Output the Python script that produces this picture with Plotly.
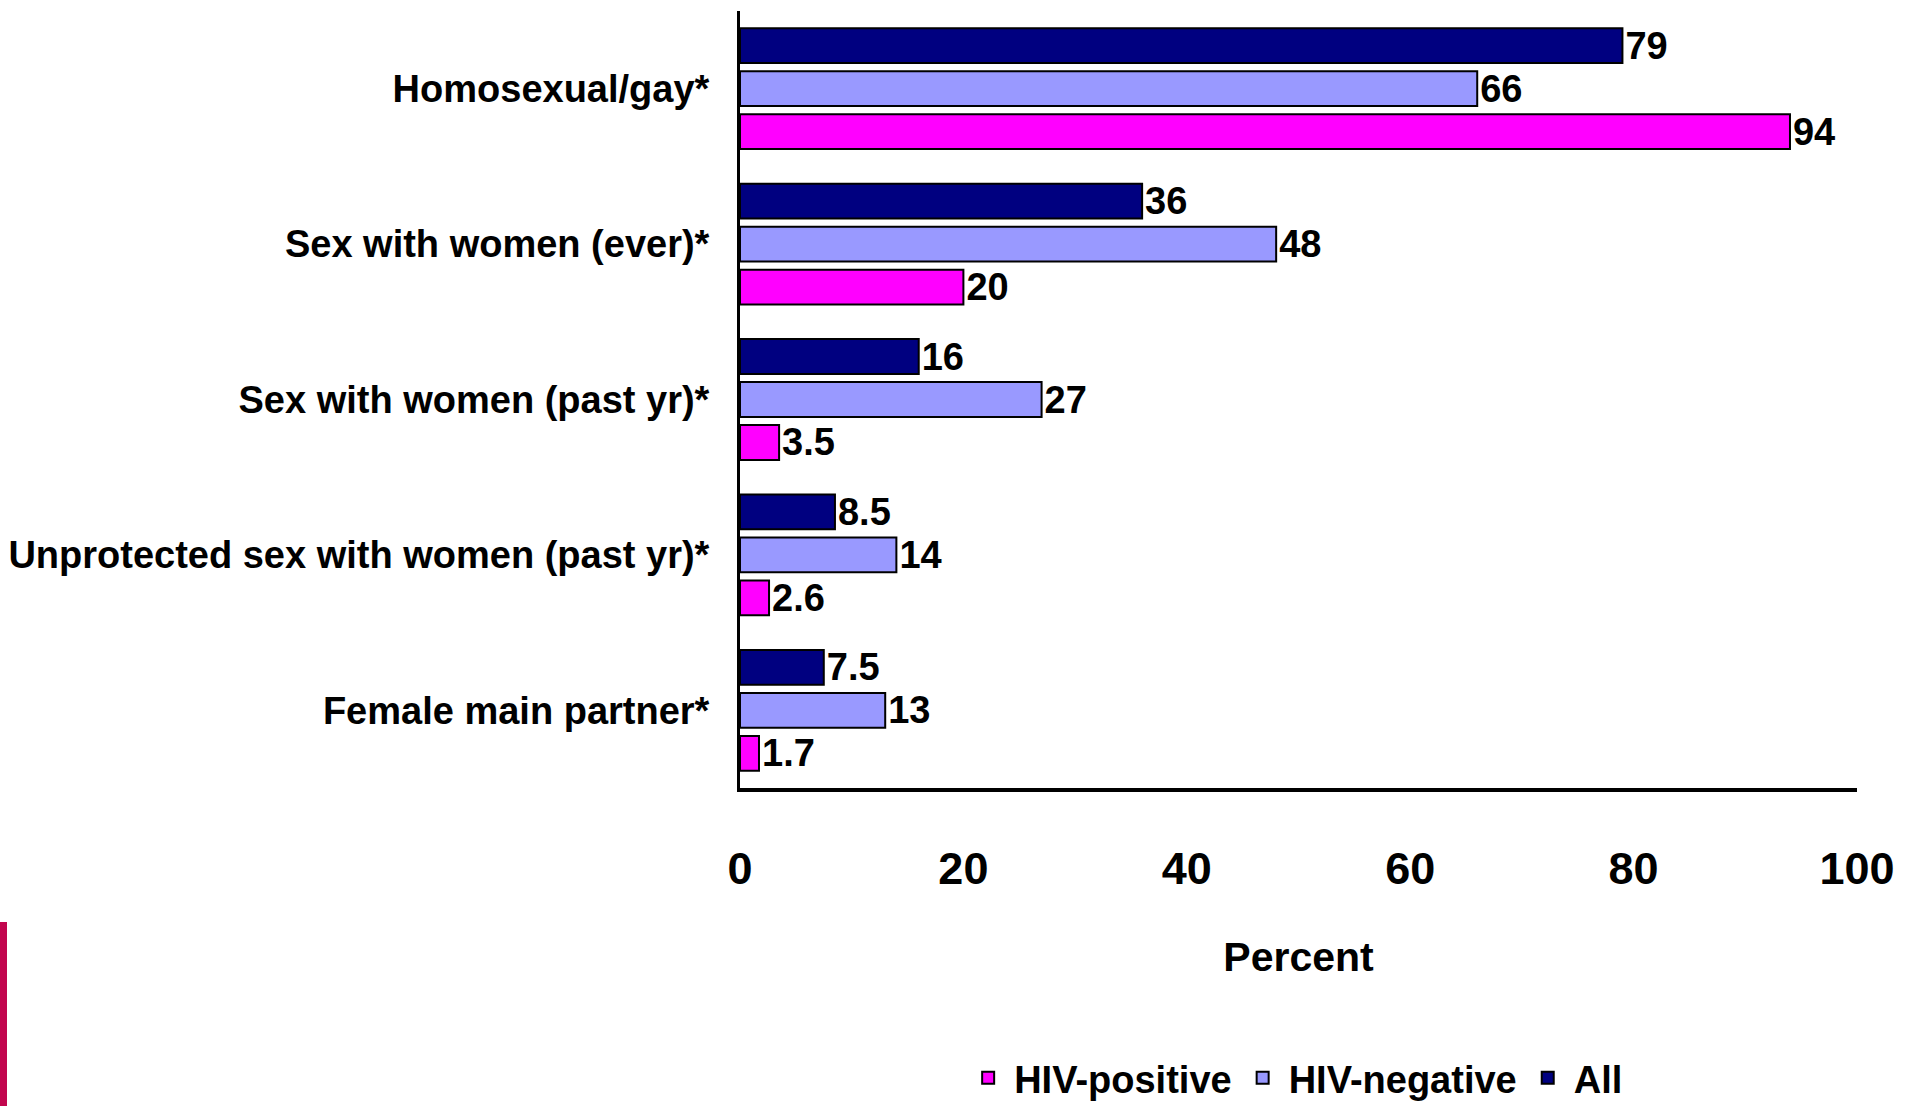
import plotly.graph_objects as go

categories = [
    "Homosexual/gay*",
    "Sex with women (ever)*",
    "Sex with women (past yr)*",
    "Unprotected sex with women (past yr)*",
    "Female main partner*",
]
all_vals = [79, 36, 16, 8.5, 7.5]
neg_vals = [66, 48, 27, 14, 13]
pos_vals = [94, 20, 3.5, 2.6, 1.7]
x_ticks = [0, 20, 40, 60, 80, 100]

FONT = "Liberation Sans, Arial, sans-serif"

def fmt(v):
    return f"{v:g}"

fig = go.Figure()
series = [
    ("All", all_vals, "#000080"),
    ("HIV-negative", neg_vals, "#9999FF"),
    ("HIV-positive", pos_vals, "#FF00FF"),
]
for name, vals, color in series:
    fig.add_trace(go.Bar(
        name=name, y=categories, x=vals, orientation="h",
        marker=dict(color=color, line=dict(color="black", width=2)),
        text=[fmt(v) for v in vals], textposition="outside",
        constraintext="none",
        textfont=dict(family=FONT, size=38, color="black", weight="bold"),
        cliponaxis=False,
    ))

W, H = 1912, 1106
L, R, T, B = 740, 55, 11, 318
PW, PH = W - L - R, H - T - B

fig.update_layout(
    width=W, height=H,
    margin=dict(l=L, r=R, t=T, b=B, autoexpand=False),
    paper_bgcolor="white", plot_bgcolor="white",
    barmode="group", bargap=0.17, bargroupgap=0.19,
    font=dict(family=FONT, color="black", size=40, weight="bold"),
    showlegend=True,
    legend=dict(orientation="h", traceorder="reversed",
                x=0.497, xanchor="center", y=-(1078 - (H - B)) / PH, yanchor="middle",
                font=dict(family=FONT, size=38, weight="bold"),
                itemwidth=42, itemclick=False),
    xaxis=dict(range=[0, 100], tickvals=x_ticks, ticktext=[str(t) for t in x_ticks],
               showgrid=False, zeroline=False, showline=True, linecolor="black",
               linewidth=4, ticks="", ticklabelstandoff=38, automargin=False,
               tickfont=dict(family=FONT, size=45, weight="bold"),
               title=dict(text="Percent", standoff=50,
                          font=dict(family=FONT, size=41, weight="bold"))),
    yaxis=dict(autorange="reversed", showgrid=False, zeroline=False,
               showline=True, linecolor="black", linewidth=3, ticks="",
               ticklabelstandoff=20, automargin=False,
               tickfont=dict(family=FONT, size=38, weight="bold")),
    shapes=[dict(type="rect", xref="paper", yref="paper",
                 x0=-L / PW, x1=-(L - 7) / PW,
                 y0=-(922 - (H - B)) / PH, y1=-B / PH,
                 fillcolor="#C2064E", line=dict(width=0))],
)

fig.write_html("out.html", config={"displayModeBar": False},
               post_script="document.body.style.margin='0';")
